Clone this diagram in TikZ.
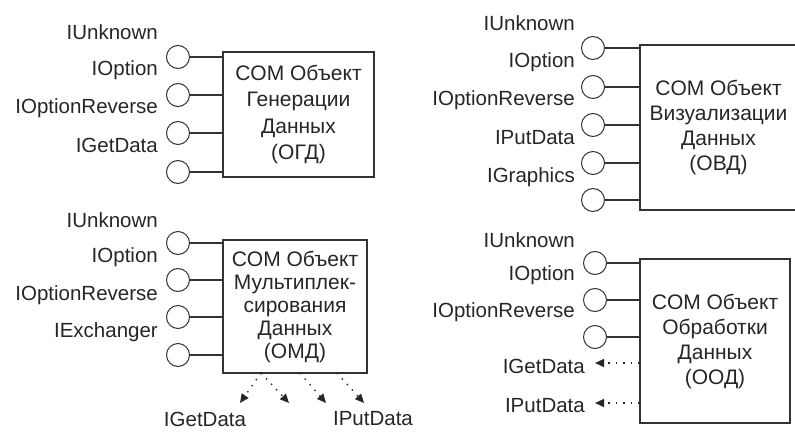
\documentclass[tikz,border=0pt]{standalone}
\usepackage{fontspec}
\setmainfont{Liberation Sans}
\usetikzlibrary{arrows.meta}
\begin{document}
\begin{tikzpicture}[x=1pt,y=-1pt,
  lbl/.style={anchor=east,inner sep=0pt,font=\fontsize{20.5}{24}\selectfont,text=black!85},
  port/.style={circle,draw=black!80,line width=1pt,minimum size=23pt,inner sep=0pt},
  wire/.style={draw=black!80,line width=1.2pt},
  objbox/.style={draw=black!80,line width=1.3pt,inner sep=0pt,align=center,text=black!85},
  deparrow/.style={draw=black!85,line width=1.4pt,dash pattern=on 1.4pt off 6pt,-{Triangle[length=9pt,width=8pt]}}]
\useasboundingbox (0,0) rectangle (795,431);

% ---------- ОГД (top left)
\node[objbox,minimum width=151pt,minimum height=125pt,font=\fontsize{21}{26.5}\selectfont] (ogd) at (298.5,114.5) {COM Объект\\Генерации\\Данных\\(ОГД)};
\node[port] (g1) at (178,57) {};
\node[port] (g2) at (178,95) {};
\node[port] (g3) at (178,133) {};
\node[port] (g4) at (178,172) {};
\foreach \p in {g1,g2,g3,g4} \draw[wire] (\p) -- (\p -| ogd.west);
\node[lbl] (gl1) at (158,32) {IUnknown};
\node[lbl] (gl2) at (158,70) {IOption};
\node[lbl] (gl3) at (158,108) {IOptionReverse};
\node[lbl] (gl4) at (158,145) {IGetData};

% ---------- ОВД (top right)
\node[objbox,minimum width=157pt,minimum height=165pt,font=\fontsize{21}{25}\selectfont] (ovd) at (718.5,127.5) {COM Объект\\Визуализации\\Данных\\(ОВД)};
\node[port] (v1) at (593,48) {};
\node[port] (v2) at (593,87) {};
\node[port] (v3) at (593,125) {};
\node[port] (v4) at (593,163) {};
\node[port] (v5) at (593,200) {};
\foreach \p in {v1,v2,v3,v4,v5} \draw[wire] (\p) -- (\p -| ovd.west);
\node[lbl] (vl1) at (575,23) {IUnknown};
\node[lbl] (vl2) at (575,62) {IOption};
\node[lbl] (vl3) at (575,100) {IOptionReverse};
\node[lbl] (vl4) at (575,138) {IPutData};
\node[lbl] (vl5) at (575,177) {IGraphics};

% ---------- ОМД (bottom left)
\node[objbox,minimum width=144pt,minimum height=133pt,font=\fontsize{21}{23}\selectfont] (omd) at (295,306.5) {COM Объект\\Мультиплек-\\сирования\\Данных\\(ОМД)};
\node[port] (m1) at (178,243) {};
\node[port] (m2) at (178,280) {};
\node[port] (m3) at (178,317) {};
\node[port] (m4) at (178,355) {};
\foreach \p in {m1,m2,m3,m4} \draw[wire] (\p) -- (\p -| omd.west);
\node[lbl] (ml1) at (158,220) {IUnknown};
\node[lbl] (ml2) at (158,257) {IOption};
\node[lbl] (ml3) at (158,295) {IOptionReverse};
\node[lbl] (ml4) at (158,332) {IExchanger};
\coordinate (ms1) at (261,373);
\coordinate (ms2) at (300,373);
\coordinate (ms3) at (337,373);
\coordinate (me1) at (240,403);
\coordinate (me2) at (289,403);
\coordinate (me3) at (326,403);
\coordinate (me4) at (364,403);
\draw[deparrow] (ms1) -- (me1);
\draw[deparrow] (ms1) -- (me2);
\draw[deparrow] (ms2) -- (me3);
\draw[deparrow] (ms3) -- (me4);
\node[lbl,anchor=center] (mgd) at (205,419) {IGetData};
\node[lbl,anchor=center] (mpd) at (373,419) {IPutData};

% ---------- ООД (bottom right)
\node[objbox,minimum width=150pt,minimum height=164pt,font=\fontsize{21}{25}\selectfont] (ood) at (715,341) {COM Объект\\Обработки\\Данных\\(ООД)};
\node[port] (o1) at (595,263) {};
\node[port] (o2) at (595,300) {};
\node[port] (o3) at (595,337) {};
\foreach \p in {o1,o2,o3} \draw[wire] (\p) -- (\p -| ood.west);
\node[lbl] (ol1) at (575,240) {IUnknown};
\node[lbl] (ol2) at (575,275) {IOption};
\node[lbl] (ol3) at (575,312) {IOptionReverse};
\node[lbl] (ogdl) at (585,366) {IGetData};
\node[lbl] (opdl) at (585,406) {IPutData};
\coordinate (oe1) at (595,363);
\coordinate (oe2) at (595,403);
\draw[deparrow] (oe1 -| ood.west) -- (oe1);
\draw[deparrow] (oe2 -| ood.west) -- (oe2);
\end{tikzpicture}
\end{document}
